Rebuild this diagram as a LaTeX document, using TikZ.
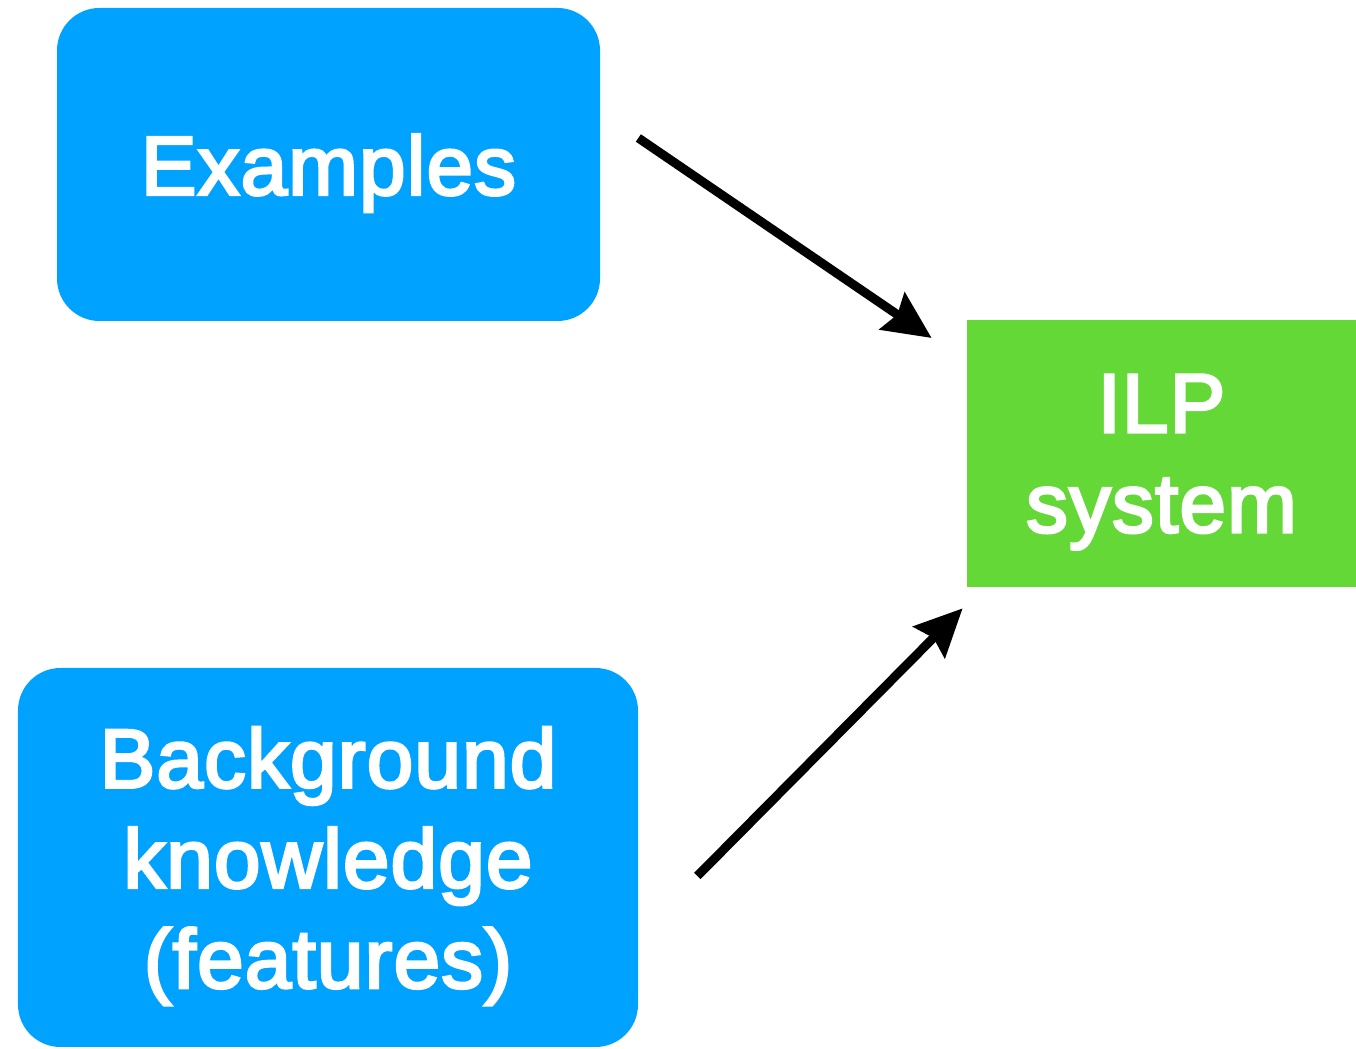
\documentclass[tikz,border=0pt]{standalone}
\usepackage{fontspec}
\setmainfont{Liberation Sans}[LetterSpace=1.5]
\usepackage{tikz}
\usetikzlibrary{
    arrows.meta,
    positioning,
    calc
}
\definecolor{BoxBlue}{RGB}{0,162,255}
\definecolor{SysGreen}{RGB}{99,216,54}
% a little heavier glyphs: fill and stroke the text
\newcommand\heavytext{\special{pdf:literal direct 2 Tr 1.6 w}}
\tikzset{
  block/.style   = {fill=BoxBlue, rounded corners=0.85cm, align=center,
                    text=white, text depth=0pt,
                    font=\fontsize{47.5}{57}\selectfont\heavytext},
  sysbox/.style  = {fill=SysGreen, align=center, text=white, text depth=0pt,
                    font=\fontsize{47.5}{57}\selectfont\heavytext},
  arr/.style     = {-{Stealth[length=0.95cm, width=0.88cm, inset=0.12cm]},
                    line width=0.18cm, black}
}

\begin{document}
\begin{tikzpicture}
\useasboundingbox (0,0) rectangle (27.12,20.98);
\node[block,minimum width=10.86cm,minimum height=6.26cm] (ex) at (6.57,17.69) {Examples};
\node[block,minimum width=12.4cm,minimum height=7.58cm] (bk) at (6.56,3.83) {Background\\knowledge\\(features)};
\node[sysbox,minimum width=7.78cm,minimum height=5.34cm] (ilp) at (23.23,11.91) {ILP\\system};
% arrow ends sit a little off the boxes
\coordinate (exout) at ($(ex.east)+(0.76,0.53)$);
\coordinate (ilpin1) at ($(ilp.west)+(-0.70,2.31)$);
\coordinate (bkout) at ($(bk.east)+(1.18,-0.37)$);
\coordinate (ilpin2) at ($(ilp.south west)+(-0.08,-0.42)$);
\draw[arr] (exout) -- (ilpin1);
\draw[arr] (bkout) -- (ilpin2);
\end{tikzpicture}
\end{document}
